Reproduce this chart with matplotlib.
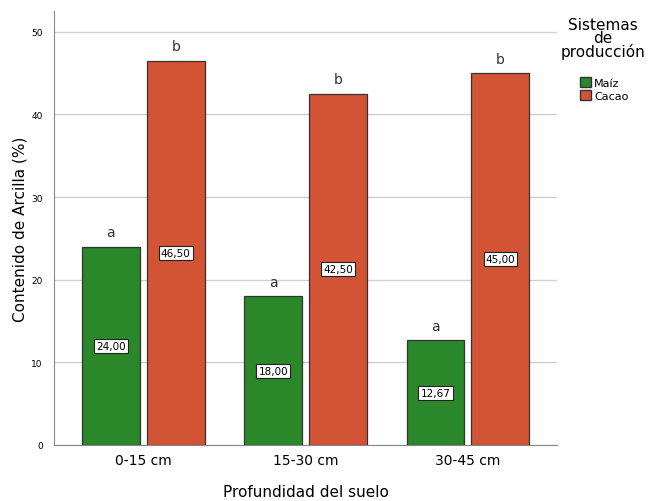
import numpy as np
import matplotlib.pyplot as plt
from matplotlib.patches import Patch

# Data
profundidad = ["0-15 cm", "15-30 cm", "30-45 cm"]
maiz = [24.00, 18.00, 12.67]
cacao = [46.50, 42.50, 45.00]
letras_maiz = ["a", "a", "a"]
letras_cacao = ["b", "b", "b"]

verde = "#2a872a"
rojo = "#d25435"

fig = plt.figure(figsize=(6.51, 5.02), dpi=100)
ax = fig.add_axes([0.083, 0.1116, 0.773, 0.8644])

x = np.arange(len(profundidad))
w = 0.357
off = 0.2
ax.yaxis.grid(True, color="#d0d0d0", linewidth=1)
ax.set_axisbelow(True)
b1 = ax.bar(x - off, maiz, w, color=verde, edgecolor="#333333", linewidth=0.9, zorder=2)
b2 = ax.bar(x + off, cacao, w, color=rojo, edgecolor="#333333", linewidth=0.9, zorder=2)

box = dict(boxstyle="square,pad=0.2", fc="white", ec="#222222", lw=0.8)
for xi, v, l in zip(x - off, maiz, letras_maiz):
    ax.text(xi, v / 2, f"{v:.2f}".replace(".", ","), ha="center", va="center",
            fontsize=7.5, bbox=box, zorder=3)
    ax.text(xi, v + 0.9, l, ha="center", va="bottom", fontsize=10, color="#333333")
for xi, v, l in zip(x + off, cacao, letras_cacao):
    ax.text(xi, v / 2, f"{v:.2f}".replace(".", ","), ha="center", va="center",
            fontsize=7.5, bbox=box, zorder=3)
    ax.text(xi, v + 0.9, l, ha="center", va="bottom", fontsize=10, color="#333333")

ax.set_xlim(-0.55, 2.55)
ax.set_ylim(0, 52.5)
ax.set_yticks([0, 10, 20, 30, 40, 50])
ax.set_xticks(x)
ax.set_xticklabels(profundidad, fontsize=10)
ax.tick_params(axis="y", labelsize=6.5, length=0, pad=8)
ax.tick_params(axis="x", length=0, pad=6)
for s in ["top", "right"]:
    ax.spines[s].set_visible(False)
for s in ["left", "bottom"]:
    ax.spines[s].set_color("#888888")

ax.set_xlabel("Profundidad del suelo", fontsize=11, labelpad=12)
ax.set_ylabel("Contenido de Arcilla (%)", fontsize=11, labelpad=3)

handles = [Patch(facecolor=verde, edgecolor="#333333", label="Maíz"),
           Patch(facecolor=rojo, edgecolor="#333333", label="Cacao")]
fig.text(0.926, 0.965, "Sistemas\nde\nproducción", ha="center", va="top",
         fontsize=11, linespacing=0.85)
fig.legend(handles=handles, loc="upper left", bbox_to_anchor=(0.882, 0.855),
           frameon=False, fontsize=8, handlelength=1.0, handleheight=1.0,
           handletextpad=0.3, labelspacing=0.2, borderpad=0)

fig.savefig("out.png", dpi=100)
